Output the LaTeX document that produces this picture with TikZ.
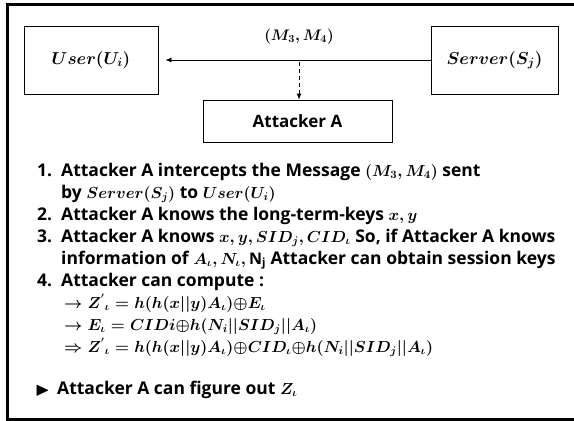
\RequirePackage{fix-cm}
\documentclass[tikz,border=0pt]{standalone}
\usepackage{amsmath,amssymb}
\usepackage{fontspec}
\setmainfont{Open Sans}
\usetikzlibrary{arrows.meta, positioning}
\newcommand{\vm}[1]{{\fontsize{16}{18}\selectfont\boldmath$#1$}}

\begin{document}
\begin{tikzpicture}[x=1pt, y=-1pt,
		entity/.style={rectangle, draw, line width=0.8pt, minimum height=68pt, text centered, inner sep=0pt, font=\fontsize{17.28}{20}\selectfont\boldmath},
		item/.style={anchor=base west, inner sep=0pt, font=\bfseries\fontsize{17.5}{19}\selectfont},
		msg/.style={-{Latex[length=6pt,width=5pt]}, line width=0.8pt}
		]
		\useasboundingbox (0,0) rectangle (574,421);
		\draw[line width=3pt] (7.5,4) rectangle (590,419);
		% Nodes
		\node (user) [entity, minimum width=134pt] at (91,60) {$User(U_i)$};
		\node (server) [entity, minimum width=127pt] at (494.5,60) {$Server(S_j)$};
		\node (attacker) [entity, minimum width=189pt, minimum height=42pt, font=\bfseries\fontsize{17}{20}\selectfont] at (297.5,121) {Attacker A};
		\node (label) [anchor=base, inner sep=0pt, font=\fontsize{15.3}{17}\selectfont\boldmath] at (299,40) {$(M_3,M_4)$};
		\coordinate (tap) at (299,62);
		
		% List
		\node (n1) [item] at (37,176) {1.};
		\node (t1) [item] at (61,176) {Attacker A intercepts the Message \vm{(M_3,M_4)} sent};
		\node (t1b) [item] at (61,198) {by \vm{Server(S_j)} to \vm{User(U_i)}};
		\node (n2) [item] at (37,220) {2.};
		\node (t2) [item] at (61,220) {Attacker A knows the long-term-keys \vm{x,y}};
		\node (n3) [item] at (37,242) {3.};
		\node (t3) [item] at (61,242) {Attacker A knows \vm{x,y,SID_j,CID_\iota} So, if Attacker A knows};
		\node (t3b) [item] at (61,264) {information of \vm{A_\iota,N_\iota,\mathrm{N_j}} Attacker can obtain session keys};
		\node (n4) [item] at (37,286) {4.};
		\node (t4) [item] at (61,286) {Attacker can compute :};
		\node (f1) [item] at (64,308) {\vm{\rightarrow Z^{'}{}_{\iota} = h(h(x||y)A_\iota){\oplus}E_\iota}};
		\node (f2) [item] at (64,330) {\vm{\rightarrow E_{\iota} = CIDi{\oplus}h(N_i||SID_j||A_\iota)}};
		\node (f3) [item] at (64,352) {\vm{\Rightarrow Z^{'}{}_{\iota} = h(h(x||y)A_\iota){\oplus}CID_\iota{\oplus}h(N_i||SID_j||A_\iota)}};
		\node (mark) [item, font=\fontsize{19}{20}\selectfont] at (35,395) {$\blacktriangleright$};
		\node (t5) [item] at (57,394) {Attacker A can figure out \vm{Z_\iota}};
		
		% Arrows
		\draw [msg, shorten >=7pt] (server) -- (user);
		\draw [msg, dash pattern=on 4pt off 3pt] (tap) -- (tap |- attacker.north);
		
	\end{tikzpicture}
\end{document}
